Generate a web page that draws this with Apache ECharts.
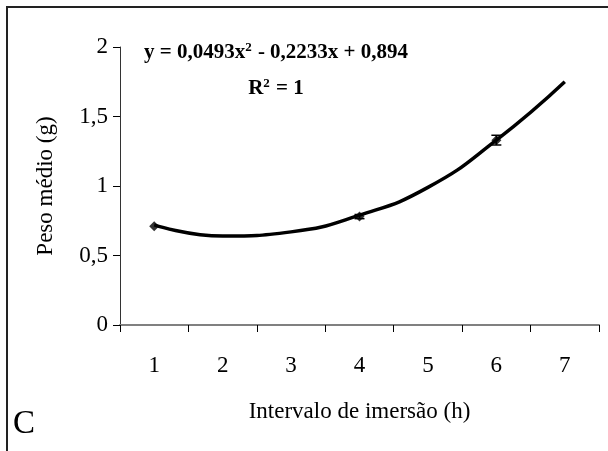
<!DOCTYPE html>
<html>
<head>
<meta charset="utf-8">
<script src="https://cdn.jsdelivr.net/npm/echarts@6/dist/echarts.min.js"></script>
<style>
  html, body { margin: 0; padding: 0; background: #fff; }
  #main { width: 608px; height: 451px; }
</style>
</head>
<body>
<div id="main"></div>
<script>
// intervalo de imersão (h)
const categories = ['1', '2', '3', '4', '5', '6', '7'];
// curva ajustada, uma por categoria
const curveValues = [0.72, 0.64, 0.67, 0.79, 0.99, 1.33, 1.75];
// médias observadas: [índice da categoria, peso médio, erro]
const obsIndex = [0, 3, 5];
const obsMean = [0.71, 0.78, 1.33];
const obsErr = [0, 0.015, 0.035];
const yTicks = [0, 0.5, 1, 1.5, 2];

const FONT = '"Liberation Serif", "Times New Roman", serif';

const myChart = echarts.init(document.getElementById('main'));

const points = obsIndex.map((c, i) => [c, obsMean[i], obsErr[i]]);

const eqRich = {
  b: { fontFamily: FONT, fontWeight: 'bold', fontSize: 21, fill: '#000', lineHeight: 24 },
  s: { fontFamily: FONT, fontWeight: 'bold', fontSize: 13, fill: '#000', lineHeight: 24, verticalAlign: 'top', padding: [0, 1, 10, 0] }
};

const option = {
  backgroundColor: '#fff',
  animation: false,
  textStyle: { fontFamily: FONT, color: '#000' },
  grid: { left: 120, right: 9, top: 47, bottom: 126 },
  graphic: [
    {
      type: 'rect',
      shape: { x: 7, y: 7, width: 620, height: 470 },
      style: { fill: 'none', stroke: '#222', lineWidth: 2 },
      silent: true
    },
    {
      type: 'text',
      left: 13, top: 408,
      style: { text: 'C', font: '33px ' + FONT, fill: '#000' }
    },
    {
      type: 'text',
      x: 276, y: 53,
      style: {
        text: '{b|y = 0,0493x}{s|2}{b| - 0,2233x + 0,894}',
        align: 'center', verticalAlign: 'middle',
        rich: eqRich
      }
    },
    {
      type: 'text',
      x: 276, y: 89,
      style: {
        text: '{b|R}{s|2}{b| = 1}',
        align: 'center', verticalAlign: 'middle',
        rich: eqRich
      }
    }
  ],
  xAxis: {
    type: 'category',
    data: categories,
    boundaryGap: true,
    name: 'Intervalo de imersão (h)',
    nameLocation: 'middle',
    nameGap: 75,
    nameTextStyle: { fontFamily: FONT, fontSize: 23, color: '#000' },
    axisLine: { lineStyle: { color: '#808080', width: 2 } },
    axisTick: { show: true, inside: false, length: 7, alignWithLabel: false, lineStyle: { color: '#000', width: 1 } },
    axisLabel: { fontFamily: FONT, fontSize: 23, color: '#000', margin: 29 },
    splitLine: { show: false }
  },
  yAxis: {
    type: 'value',
    min: 0, max: 2, interval: 0.5,
    name: 'Peso médio (g)',
    nameLocation: 'middle',
    nameGap: 63,
    nameRotate: 90,
    nameTextStyle: { fontFamily: FONT, fontSize: 23, color: '#000' },
    axisLine: { show: true, lineStyle: { color: '#333', width: 1 } },
    axisTick: { show: true, length: 7, lineStyle: { color: '#000' } },
    axisLabel: {
      fontFamily: FONT, fontSize: 23, color: '#000', margin: 12,
      formatter: v => yTicks.includes(v) ? String(v).replace('.', ',') : ''
    },
    splitLine: { show: false }
  },
  series: [
    {
      type: 'line',
      data: curveValues,
      smooth: true,
      symbol: 'none',
      lineStyle: { color: '#000', width: 3.5 },
      z: 2
    },
    {
      type: 'custom',
      data: points,
      renderItem: (params, api) => {
        const x = api.coord([api.value(0), 0])[0];
        const top = api.coord([api.value(0), api.value(1) + api.value(2)])[1];
        const bot = api.coord([api.value(0), api.value(1) - api.value(2)])[1];
        if (api.value(2) === 0) return null;
        const style = { stroke: '#000', lineWidth: 1.5 };
        return {
          type: 'group',
          children: [
            { type: 'line', shape: { x1: x, y1: top, x2: x, y2: bot }, style },
            { type: 'line', shape: { x1: x - 5, y1: top, x2: x + 5, y2: top }, style },
            { type: 'line', shape: { x1: x - 5, y1: bot, x2: x + 5, y2: bot }, style }
          ]
        };
      },
      z: 3
    },
    {
      type: 'scatter',
      data: points.map(p => [p[0], p[1]]),
      symbol: 'diamond',
      symbolSize: 10,
      itemStyle: { color: '#000' },
      z: 4
    }
  ]
};

myChart.setOption(option);
</script>
</body>
</html>
